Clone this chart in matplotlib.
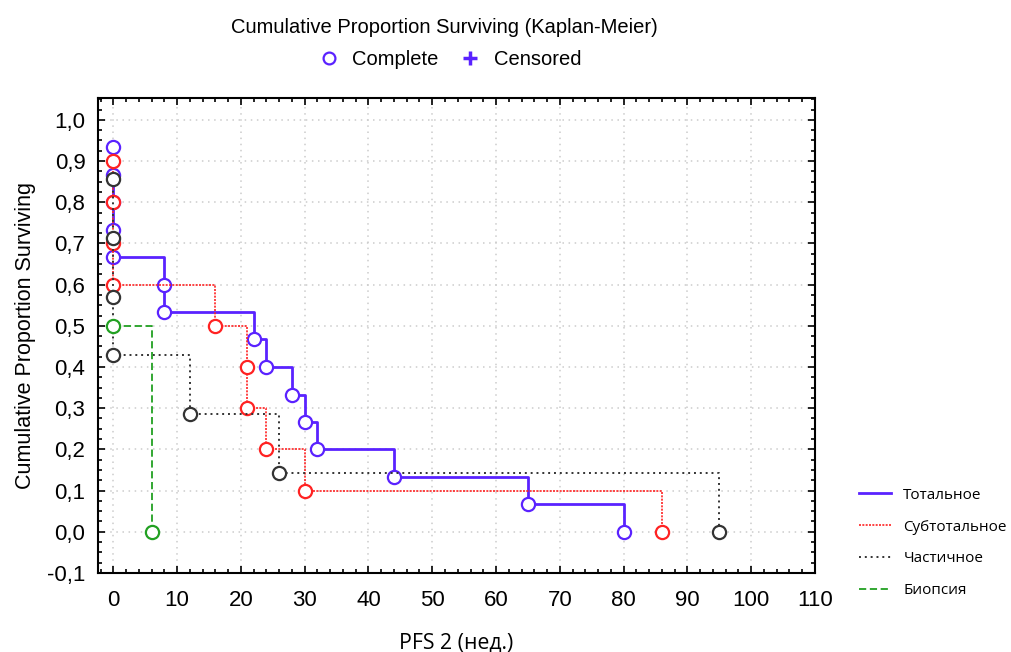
import matplotlib
matplotlib.use('Agg')
import matplotlib.pyplot as plt
from matplotlib.lines import Line2D
from matplotlib.ticker import MultipleLocator, FuncFormatter

# --- Dados ---
grupos = ['Тотальное', 'Субтотальное', 'Частичное', 'Биопсия']

tempo_total = [0, 0, 0, 0, 0, 8, 8, 22, 24, 28, 30, 32, 44, 65, 80]
surv_total = [0.933, 0.867, 0.800, 0.733, 0.667, 0.600, 0.533, 0.467,
              0.400, 0.333, 0.267, 0.200, 0.133, 0.067, 0.0]

tempo_subtotal = [0, 0, 0, 0, 16, 21, 21, 24, 30, 86]
surv_subtotal = [0.9, 0.8, 0.7, 0.6, 0.5, 0.4, 0.3, 0.2, 0.1, 0.0]

tempo_parcial = [0, 0, 0, 0, 12, 26, 95]
surv_parcial = [0.857, 0.714, 0.571, 0.429, 0.286, 0.143, 0.0]

tempo_biopsia = [0, 6]
surv_biopsia = [0.5, 0.0]

series = [
    (tempo_total, surv_total, '#5a22ff', '-', 2.0),
    (tempo_subtotal, surv_subtotal, '#ff2222', (0, (1.2, 0.8)), 1.2),
    (tempo_parcial, surv_parcial, '#333333', (0, (1, 2)), 1.4),
    (tempo_biopsia, surv_biopsia, '#22a022', (0, (4, 2)), 1.3),
]

fonte_arial = 'Liberation Sans'
fonte_rus = ['Open Sans', 'DejaVu Sans']

fig = plt.figure(figsize=(10.11, 6.52), dpi=100)
ax = fig.add_axes([0.0969, 0.1212, 0.7092, 0.7285])

for t, s, cor, estilo, lw in series:
    ax.plot(t, s, drawstyle='steps-post', color=cor, linestyle=estilo, linewidth=lw)
    ax.plot(t, s, linestyle='none', marker='o', markersize=9.5, markeredgewidth=1.6,
            markeredgecolor=cor, markerfacecolor='white')

# --- Eixos ---
ax.set_xlim(-2.4, 110)
ax.set_ylim(-0.1, 1.053)
ax.xaxis.set_major_locator(MultipleLocator(10))
ax.xaxis.set_minor_locator(MultipleLocator(2))
ax.yaxis.set_major_locator(MultipleLocator(0.1))
ax.yaxis.set_minor_locator(MultipleLocator(0.025))
ax.yaxis.set_major_formatter(FuncFormatter(lambda v, p: f'{v:.1f}'.replace('.', ',')))
ax.tick_params(which='both', direction='in', top=True, right=True, width=1.2)
ax.tick_params(axis='y', which='major', length=5, labelsize=16, pad=9)
ax.tick_params(axis='x', which='major', length=5, labelsize=16, pad=12)
ax.tick_params(which='minor', length=3)
for lab in ax.get_xticklabels() + ax.get_yticklabels():
    lab.set_fontfamily(fonte_arial)
for sp in ax.spines.values():
    sp.set_linewidth(1.5)
ax.grid(True, which='major', color='#cccccc', linestyle=(0, (1, 3)), linewidth=1.1)
ax.set_axisbelow(True)

ax.set_ylabel('Cumulative Proportion Surviving', fontsize=15.5, family=fonte_arial, labelpad=8)
ax.set_xlabel('PFS 2 (нед.)', fontsize=15.3, family=fonte_rus, labelpad=16)

fig.text(0.44, 0.958, 'Cumulative Proportion Surviving (Kaplan-Meier)', ha='center',
         va='center', fontsize=14.5, family=fonte_arial)

# --- Legenda superior ---
h_comp = Line2D([], [], linestyle='none', marker='o', markersize=8.5, markeredgewidth=1.6,
                markeredgecolor='#5a22ff', markerfacecolor='white')
h_cens = Line2D([], [], linestyle='none', marker='+', markersize=10, markeredgewidth=2.5,
                color='#5a22ff')
fig.legend([h_comp, h_cens], ['Complete', 'Censored'], loc='center',
           bbox_to_anchor=(0.444, 0.908), ncol=2, frameon=False,
           prop={'family': fonte_arial, 'size': 14.5}, handlelength=1.2,
           handletextpad=0.55, columnspacing=1.0)

# --- Legenda lateral ---
handles = [Line2D([], [], color=c, linestyle=e, linewidth=lw) for _, _, c, e, lw in series]
fig.legend(handles, grupos, loc='upper left', bbox_to_anchor=(0.836, 0.273),
           frameon=False, prop={'family': fonte_rus, 'size': 11},
           handlelength=2.1, handletextpad=0.8, labelspacing=1.1)

fig.savefig('out.png', dpi=100)
